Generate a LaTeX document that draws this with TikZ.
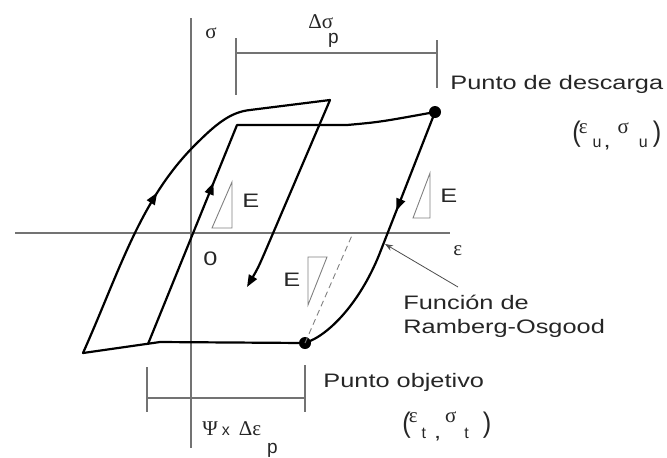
\documentclass[tikz,border=0pt]{standalone}
\usepackage{fontspec}
\setmainfont[FakeStretch=1.3]{Liberation Sans}
\newfontfamily\grkf{Liberation Serif}
\newfontfamily\subf{Liberation Sans}
\newcommand{\grk}{\grkf\fontsize{10.5}{12}\selectfont}
\newcommand{\subu}{\subf\fontsize{8}{10}\selectfont}
\newcommand{\subp}{\subf\fontsize{9.5}{11}\selectfont}
\newcommand{\bigpar}[1]{\raisebox{3pt}{\scalebox{1}[1.45]{#1}}}
\usetikzlibrary{arrows.meta, decorations.markings}

\begin{document}
\begin{tikzpicture}[
	x=0.5pt, y=-0.5pt,
	axis/.style={draw=black!55, line width=0.6pt},
	curve/.style={draw=black, line width=1.1pt, line join=round, line cap=round},
	slope/.style={draw=black!50, line width=0.45pt},
	lbl/.style={inner sep=0pt, anchor=base west, text=black!85, font=\fontsize{9.75}{12}\selectfont},
	dot/.style={circle, fill=black, inner sep=0pt, minimum size=6pt},
	midtip/.style={decoration={markings, mark=at position #1 with {\arrow{Triangle[length=6pt,width=4.5pt]}}}, postaction=decorate},
	>={Triangle[length=6pt,width=4.5pt]}
	]
	\useasboundingbox (0,0) rectangle (667,457);
	\draw[axis] (191,18) -- (191,448);
	\draw[axis] (15,233) -- (450,233);
	\draw[axis] (236,53) -- (437,53);
	\draw[axis] (236,38) -- (236,95);
	\draw[axis] (437,40) -- (437,88);
	\draw[axis] (147,398) -- (305,398);
	\draw[axis] (147,367) -- (147,412);
	\draw[axis] (305,365) -- (305,412);

	\node[dot] (u) at (435,112) {};
	\node[dot] (t) at (305,343) {};
	\coordinate (d) at (353,233);
	\coordinate (rp) at (385,244);
	\coordinate (lf) at (458,287);

	\draw[curve, midtip=0.3, ->] (83,353) .. controls (120,270) and (140,200) .. (195,145) .. controls (215,125) and (230,112) .. (250,110) -- (330,100) -- (265,252) .. controls (258,268) .. (247,287);
	\draw[curve] (t.center) -- (160,342) -- (83,353);
	\draw[curve, midtip=0.4] (148,344) -- (237,125) -- (347,125) .. controls (380,122) .. (u.center);
	\draw[curve, midtip=0.39] (u.center) -- (381,250) .. controls (362,300) and (330,335) .. (t.center);
	\draw[slope, dash pattern=on 3pt off 2pt] (t.center) -- (d);

	\draw[slope] (212,228) -- (232,228) -- (232,182) -- cycle;
	\draw[slope] (413,218) -- (430,218) -- (430,173) -- cycle;
	\draw[slope] (308,257) -- (327,257) -- (308,305) -- cycle;

	\draw[-{Stealth[length=4pt,width=3pt]}, black!70, line width=0.4pt] (lf) -- (rp);

	\node[lbl] (sig) at (205,38) {\grk σ};
	\node[lbl] (eps) at (453,255) {\grk ε};
	\node[lbl] (zero) at (203,265) {0};
	\node[lbl] (e1) at (242,207) {E};
	\node[lbl] (e2) at (440,202) {E};
	\node[lbl] (e3) at (283,286) {E};
	\node[lbl] (dsp) at (308,28) {{\grk Δσ}\hspace{-2.6pt}\raisebox{-7.5pt}{\subp p}};
	\node[lbl] (desc) at (450,89) {Punto de descarga};
	\node[lbl] (obj) at (323,387) {Punto objetivo};
	\node[lbl] (fn1) at (403,309) {Función de};
	\node[lbl] (fn2) at (403,333) {Ramberg-Osgood};
	\node[lbl] (cu) at (572,147) {\bigpar{(}\hspace{-1pt}\raisebox{7pt}{\grk ε}\hspace{2.5pt}{\subu u}\hspace{1pt},\hspace{3.5pt}\raisebox{7pt}{\grk σ}\hspace{5pt}{\subu u}\hspace{2.5pt}\bigpar{)}};
	\node[lbl] (ct) at (402,438) {\bigpar{(}\hspace{-1pt}\raisebox{8pt}{\grk ε}\hspace{2pt}{\subu t}\hspace{4pt},\hspace{2pt}\raisebox{8pt}{\grk σ}\hspace{4pt}{\subu t}\hspace{7pt}\bigpar{)}};
	\node[lbl] (psi) at (202,435) {{\grk Ψ}\hspace{2pt}{\subu x}\hspace{4.5pt}{\grk Δε}\hspace{3pt}\raisebox{-9pt}{\subp p}};
\end{tikzpicture}
\end{document}
